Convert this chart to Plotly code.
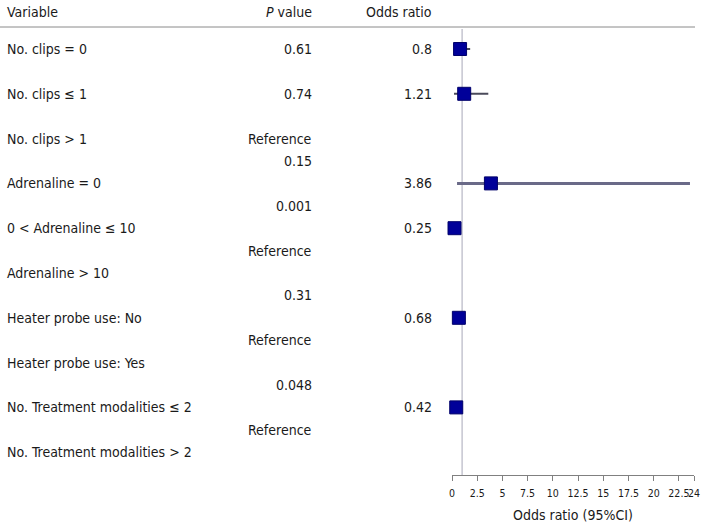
import plotly.graph_objects as go

# ---- data ----
labels = ["No. clips = 0", "No. clips \u2264 1", "No. clips > 1", "Adrenaline = 0",
          "0 < Adrenaline \u2264 10", "Adrenaline > 10", "Heater probe use: No",
          "Heater probe use: Yes", "No. Treatment modalities \u2264 2",
          "No. Treatment modalities > 2"]
label_rows = [0, 2, 4, 6, 8, 10, 12, 14, 16, 18]

p_text = ["0.61", "0.74", "Reference", "0.15", "0.001", "Reference",
          "0.31", "Reference", "0.048", "Reference"]
p_rows = [0, 2, 4, 5, 7, 9, 11, 13, 15, 17]

or_vals = [0.8, 1.21, 3.86, 0.25, 0.68, 0.42]
or_text = ["0.8", "1.21", "3.86", "0.25", "0.68", "0.42"]
or_rows = [0, 2, 6, 8, 12, 16]
ci_low = [0.3, 0.2, 0.5, 0.12, 0.35, 0.2]
ci_high = [1.8, 3.6, 23.6, 0.55, 1.3, 0.9]

tick_vals = [0, 2.5, 5, 7.5, 10, 12.5, 15, 17.5, 20, 22.5, 24]
tick_text = ["0", "2.5", "5", "7.5", "10", "12.5", "15", "17.5", "20", "22.5", "24"]

# ---- style / layout ----
FONT = "DejaVu Sans Condensed, DejaVu Sans, sans-serif"
TXT = "#1a1a1a"
W, H = 707, 528
TOP, BOT = 30, 475   # plot area top / axis line (px)
PH = BOT - TOP


def px(x):
    return x / W


def py(y):
    return 1 + (TOP - y) / PH


ci_width = [2, 2, 3, 2, 2, 2]
ci_color = ["#4a4a5a", "#4a4a5a", "#6a6a88", "#4a4a5a", "#4a4a5a", "#4a4a5a"]

fig = go.Figure()

for lo, hi, r, w, c in zip(ci_low, ci_high, or_rows, ci_width, ci_color):
    fig.add_trace(go.Scatter(x=[lo, hi], y=[r, r], mode="lines",
                             line=dict(color=c, width=w), hoverinfo="skip",
                             showlegend=False))

fig.add_trace(go.Scatter(x=or_vals, y=or_rows, mode="markers",
                         marker=dict(symbol="square", size=13, color="#000099",
                                     line=dict(color="#00006a", width=1)),
                         showlegend=False, cliponaxis=False))

f14 = dict(size=14, color=TXT, family=FONT)
ann = []
for t, r in zip(labels, label_rows):
    ann.append(dict(x=px(5), y=r, xref="paper", yref="y", text=t, showarrow=False,
                    xanchor="left", yanchor="middle", font=f14))
for t, r in zip(p_text, p_rows):
    ann.append(dict(x=px(314), y=r, xref="paper", yref="y", text=t, showarrow=False,
                    xanchor="right", yanchor="middle", font=f14))
for t, r in zip(or_text, or_rows):
    ann.append(dict(x=px(434), y=r, xref="paper", yref="y", text=t, showarrow=False,
                    xanchor="right", yanchor="middle", font=f14))

ann.append(dict(x=px(5), y=py(12), xref="paper", yref="paper", text="Variable", showarrow=False,
                xanchor="left", yanchor="middle", font=f14))
ann.append(dict(x=px(314), y=py(12), xref="paper", yref="paper", text="<i>P</i> value", showarrow=False,
                xanchor="right", yanchor="middle", font=f14))
ann.append(dict(x=px(434), y=py(12), xref="paper", yref="paper", text="Odds ratio", showarrow=False,
                xanchor="right", yanchor="middle", font=f14))
ann.append(dict(x=px(573), y=py(515), xref="paper", yref="paper", text="Odds ratio (95%CI)",
                showarrow=False, xanchor="center", yanchor="middle", font=f14))

shapes = [
    dict(type="line", xref="paper", yref="paper", x0=px(0), x1=px(695),
         y0=py(27), y1=py(27), line=dict(color="#8a8a8a", width=1)),
    dict(type="line", xref="x", yref="paper", x0=1, x1=1, y0=0, y1=py(29),
         line=dict(color="#a8a8b8", width=1), layer="below"),
]

fig.update_layout(
    width=W, height=H,
    margin=dict(l=0, r=0, t=TOP, b=H - BOT, autoexpand=False),
    paper_bgcolor="white", plot_bgcolor="white",
    annotations=ann, shapes=shapes,
    xaxis=dict(domain=[px(452), px(694)], range=[0, 24], tickvals=tick_vals, ticktext=tick_text,
               showline=True, linecolor="#808080", linewidth=1, ticks="outside", ticklen=5,
               tickcolor="#808080", showgrid=False, zeroline=False, tickangle=0,
               automargin=False, ticklabelstandoff=3,
               tickfont=dict(size=10.5, color=TXT, family=FONT)),
    yaxis=dict(range=[(BOT - 49) / 22.4, (TOP - 49) / 22.4], visible=False,
               showgrid=False, zeroline=False, automargin=False),
)

fig.write_html("out.html", config={"displayModeBar": False},
               post_script="document.body.style.margin='0';document.body.style.padding='0';")
